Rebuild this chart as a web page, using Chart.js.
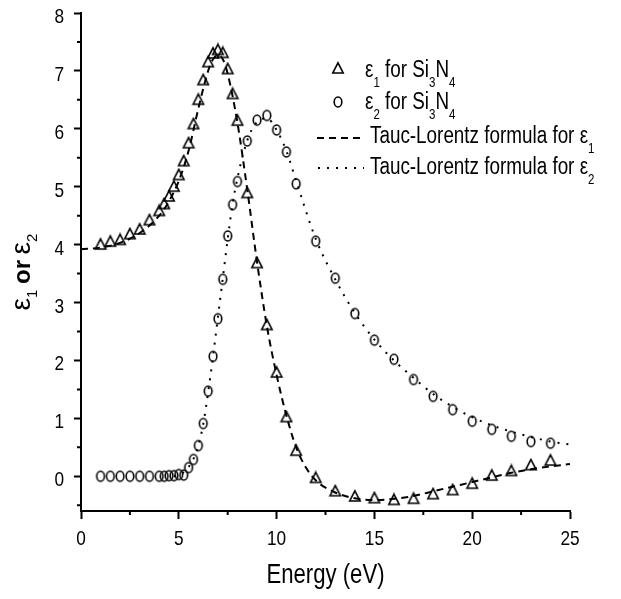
<!DOCTYPE html>
<html lang="en">
<head>
<meta charset="UTF-8">
<title>Dielectric function of Si3N4</title>
<style>
    body { margin: 0; background: #ffffff; }
    #wrap { position: relative; width: 621px; height: 599px; }
</style>
</head>
<body>
<div id="wrap"><canvas id="epsChart"></canvas></div>
<script src="https://cdn.jsdelivr.net/npm/chart.js"></script>
<script>
const FONT = '"Liberation Sans", Arial, sans-serif';
const SQUEEZE = 0.82; // the original lettering is condensed

// measured points, photon energy in eV
const energy = [1, 1.5, 2, 2.5, 3, 3.5, 4, 4.25, 4.5, 4.75, 5, 5.25, 5.5, 5.75, 6, 6.25, 6.5, 6.75, 7, 7.25, 7.5, 7.75, 8, 8.5, 9, 9.5, 10, 10.5, 11, 12, 13, 14, 15, 16, 17, 18, 19, 20, 21, 22, 23, 24];
const eps1 = [4.01, 4.06, 4.09, 4.19, 4.27, 4.43, 4.59, 4.71, 4.84, 5.01, 5.21, 5.45, 5.76, 6.09, 6.51, 6.85, 7.16, 7.31, 7.37, 7.32, 7.04, 6.61, 6.15, 4.90, 3.69, 2.62, 1.80, 1.03, 0.45, -0.02, -0.25, -0.34, -0.37, -0.40, -0.38, -0.30, -0.23, -0.12, 0.02, 0.10, 0.20, 0.28];
const eps2 = [0, 0, 0, 0, 0, 0, 0, 0, 0.01, 0.01, 0.03, 0.02, 0.15, 0.29, 0.53, 0.91, 1.47, 2.07, 2.72, 3.40, 4.15, 4.69, 5.09, 5.79, 6.15, 6.23, 5.98, 5.60, 5.05, 4.06, 3.42, 2.81, 2.35, 2.02, 1.67, 1.38, 1.15, 0.95, 0.81, 0.69, 0.60, 0.57];

// Tauc-Lorentz fit curves
const fit1Energy = [0, 1, 2, 3, 4, 4.5, 5, 5.5, 6, 6.5, 6.75, 7, 7.25, 7.5, 8, 8.5, 9, 9.5, 10, 10.5, 11, 11.5, 12, 13, 14, 15, 16, 17, 18, 19, 20, 21, 22, 23, 24, 25];
const fit1 = [3.92, 3.95, 4.03, 4.2, 4.5, 4.75, 5.1, 5.62, 6.35, 7.0, 7.2, 7.27, 7.2, 6.95, 6.1, 4.95, 3.7, 2.6, 1.75, 1.05, 0.5, 0.15, -0.07, -0.28, -0.38, -0.41, -0.39, -0.34, -0.26, -0.18, -0.1, -0.02, 0.06, 0.12, 0.17, 0.21];
const fit2Energy = [4.75, 5, 5.25, 5.5, 5.75, 6, 6.25, 6.5, 6.75, 7, 7.25, 7.5, 7.75, 8, 8.5, 9, 9.5, 10, 10.5, 11, 12, 13, 14, 15, 16, 17, 18, 19, 20, 21, 22, 23, 24, 25];
const fit2 = [0, 0.02, 0.07, 0.16, 0.3, 0.53, 0.9, 1.45, 2.07, 2.75, 3.42, 4.1, 4.7, 5.15, 5.8, 6.12, 6.18, 5.98, 5.62, 5.1, 4.1, 3.4, 2.82, 2.36, 2.0, 1.7, 1.42, 1.2, 1.02, 0.88, 0.77, 0.68, 0.6, 0.55];

const xTicks = [0, 5, 10, 15, 20, 25];
const yTicks = [0, 1, 2, 3, 4, 5, 6, 7, 8];
const xMinor = [2.5, 7.5, 12.5, 17.5, 22.5];
const yMinor = [-0.5, 0.5, 1.5, 2.5, 3.5, 4.5, 5.5, 6.5, 7.5];

// "_d" marks a subscript digit
const labels = ['ε_1 for Si_3N_4', 'ε_2 for Si_3N_4', 'Tauc-Lorentz formula for ε_1', 'Tauc-Lorentz formula for ε_2'];
const xTitle = 'Energy (eV)';

const toXY = (xs, ys) => xs.map((x, i) => ({ x: x, y: ys[i] }));

function makeMarker(kind) {
    const c = document.createElement('canvas');
    c.width = 14; c.height = 14;
    const g = c.getContext('2d');
    g.strokeStyle = '#000';
    g.lineWidth = 1.6;
    g.beginPath();
    if (kind === 'tri') {
        g.moveTo(7, 1.8); g.lineTo(12.2, 12); g.lineTo(1.8, 12); g.closePath();
    } else {
        g.ellipse(7, 7, 3.8, 5, 0, 0, Math.PI * 2);
    }
    g.stroke();
    return c;
}
const triMarker = makeMarker('tri');
const circMarker = makeMarker('circ');

// split "ε_1 for Si_3N_4" into normal / subscript pieces
function parseRich(str) {
    const parts = [];
    str.split(/(_\d)/).forEach(p => {
        if (!p) return;
        if (p[0] === '_') parts.push({ t: p.slice(1), sub: true });
        else parts.push({ t: p, sub: false });
    });
    return parts;
}

function partFont(p, size, subSize) {
    if (p.sub) return `${subSize}px ${FONT}`;
    return `${p.bold ? 'bold ' : ''}${p.size || size}px ${FONT}`;
}

function richWidth(ctx, parts, size, subSize) {
    let w = 0;
    parts.forEach(p => {
        ctx.font = partFont(p, size, subSize);
        w += ctx.measureText(p.t).width;
    });
    return w;
}

// draws at (x, y) baseline, condensed horizontally by sx
function drawRich(ctx, parts, x, y, size, subSize, subDrop, sx) {
    ctx.save();
    ctx.translate(x, y);
    ctx.scale(sx, 1);
    let cx = 0;
    parts.forEach(p => {
        ctx.font = partFont(p, size, subSize);
        ctx.fillText(p.t, cx, p.sub ? subDrop : 0);
        cx += ctx.measureText(p.t).width;
    });
    ctx.restore();
}

function drawCondensed(ctx, text, x, y, size, align, baseline) {
    ctx.save();
    ctx.translate(x, y);
    ctx.scale(SQUEEZE, 1);
    ctx.font = `${size}px ${FONT}`;
    ctx.textAlign = align;
    ctx.textBaseline = baseline;
    ctx.fillText(text, 0, 0);
    ctx.restore();
}

const axisText = {
    id: 'axisText',
    afterDraw(chart) {
        const { ctx, chartArea: a, scales: { x, y } } = chart;
        ctx.save();
        ctx.fillStyle = '#000';
        ctx.strokeStyle = '#000';
        // minor ticks
        ctx.lineWidth = 2;
        ctx.beginPath();
        xMinor.forEach(v => {
            const px = x.getPixelForValue(v);
            ctx.moveTo(px, a.bottom); ctx.lineTo(px, a.bottom + 4);
        });
        yMinor.forEach(v => {
            const py = y.getPixelForValue(v);
            ctx.moveTo(a.left, py); ctx.lineTo(a.left - 4, py);
        });
        ctx.stroke();
        // tick labels
        xTicks.forEach(v => drawCondensed(ctx, String(v), x.getPixelForValue(v), a.bottom + 34, 21, 'center', 'alphabetic'));
        yTicks.forEach(v => drawCondensed(ctx, String(v), a.left - 17, y.getPixelForValue(v) + 10, 21, 'right', 'alphabetic'));
        // x title
        drawCondensed(ctx, xTitle, (a.left + a.right) / 2, 583, 27, 'center', 'alphabetic');
        ctx.restore();
    }
};

const legendBox = {
    id: 'legendBox',
    afterDraw(chart) {
        const ctx = chart.ctx;
        const rows = [77, 109, 143, 174];
        ctx.save();
        ctx.fillStyle = '#000';
        ctx.strokeStyle = '#000';
        ctx.textBaseline = 'alphabetic';
        ctx.drawImage(triMarker, 338 - 7, rows[0] - 9 - 7);
        ctx.drawImage(circMarker, 338 - 7, rows[1] - 7 - 7);
        ctx.lineWidth = 2;
        ctx.setLineDash([7, 5]);
        ctx.beginPath(); ctx.moveTo(317, rows[2] - 5); ctx.lineTo(364, rows[2] - 5); ctx.stroke();
        ctx.setLineDash([2, 7]);
        ctx.beginPath(); ctx.moveTo(318, rows[3] - 6); ctx.lineTo(364, rows[3] - 6); ctx.stroke();
        ctx.setLineDash([]);
        labels.forEach((lab, i) => {
            const x0 = i < 2 ? 365 : 370;
            drawRich(ctx, parseRich(lab), x0, rows[i], 23, 14, 10, SQUEEZE);
        });
        ctx.restore();
    }
};

const yTitle = {
    id: 'yTitle',
    afterDraw(chart) {
        const ctx = chart.ctx;
        const parts = [
            { t: 'ε', size: 28 }, { t: '1', sub: true }, { t: ' ', size: 20 },
            { t: 'or', bold: true, size: 24 },
            { t: ' ', size: 20 }, { t: 'ε', size: 28 }, { t: '2', sub: true }
        ];
        const w = richWidth(ctx, parts, 22, 15);
        ctx.save();
        ctx.fillStyle = '#000';
        ctx.translate(30, 272);
        ctx.rotate(-Math.PI / 2);
        drawRich(ctx, parts, -w / 2, 0, 22, 15, 7, 1);
        ctx.restore();
    }
};

const ctx = document.getElementById('epsChart').getContext('2d');
const epsChart = new Chart(ctx, {
    type: 'scatter',
    data: {
        datasets: [
            {
                label: labels[0],
                data: toXY(energy, eps1),
                pointStyle: triMarker,
                pointRadius: 5,
                showLine: false
            },
            {
                label: labels[1],
                data: toXY(energy, eps2),
                pointStyle: circMarker,
                pointRadius: 5,
                showLine: false
            },
            {
                label: labels[2],
                data: toXY(fit1Energy, fit1),
                showLine: true,
                borderColor: '#000',
                borderWidth: 2,
                borderDash: [7, 5],
                pointRadius: 0,
                cubicInterpolationMode: 'monotone'
            },
            {
                label: labels[3],
                data: toXY(fit2Energy, fit2),
                showLine: true,
                borderColor: '#000',
                borderWidth: 2,
                borderDash: [2, 7],
                pointRadius: 0,
                cubicInterpolationMode: 'monotone'
            }
        ]
    },
    options: {
        responsive: true,
        maintainAspectRatio: false,
        animation: false,
        events: [],
        layout: { padding: { top: 13, right: 51, left: 0, bottom: 0 } },
        plugins: {
            legend: { display: false },
            tooltip: { enabled: false }
        },
        scales: {
            x: {
                type: 'linear',
                min: 0,
                max: 25,
                afterBuildTicks: s => { s.ticks = xTicks.map(v => ({ value: v })); },
                afterFit: s => { s.height = 88; },
                border: { display: true, color: '#000', width: 2 },
                grid: { display: true, drawOnChartArea: false, drawTicks: true, tickLength: 8, tickWidth: 2, tickColor: '#000' },
                ticks: { display: false }
            },
            y: {
                type: 'linear',
                min: -0.6,
                max: 8,
                afterBuildTicks: s => { s.ticks = yTicks.map(v => ({ value: v })); },
                afterFit: s => { s.width = 81; },
                border: { display: true, color: '#000', width: 2 },
                grid: { display: true, drawOnChartArea: false, drawTicks: true, tickLength: 7, tickWidth: 2, tickColor: '#000' },
                ticks: { display: false }
            }
        }
    },
    plugins: [axisText, legendBox, yTitle]
});
</script>
</body>
</html>
